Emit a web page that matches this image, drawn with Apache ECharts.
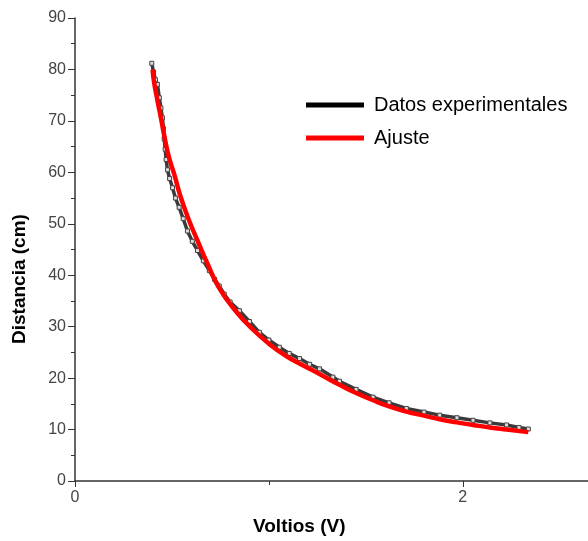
<!DOCTYPE html>
<html>
<head>
<meta charset="utf-8">
<script src="https://cdn.jsdelivr.net/npm/echarts@6/dist/echarts.min.js"></script>
<style>html,body{margin:0;padding:0;background:#fff}#c{width:588px;height:541px}</style>
</head>
<body>
<div id="c"></div>
<script>
// Experimental data: voltage (V) and distance (cm)
const expV = [0.396,0.405,0.415,0.425,0.435,0.443,0.451,0.456,0.460,0.465,0.470,0.477,0.488,0.503,0.518,0.537,0.558,0.580,0.605,0.632,0.662,0.693,0.720,0.744,0.770,0.800,0.848,0.900,0.951,1.000,1.054,1.105,1.158,1.210,1.261,1.330,1.364,1.450,1.537,1.620,1.709,1.800,1.881,1.970,2.053,2.140,2.226,2.290,2.338];
const expD = [81.2,79.5,78.0,77.1,74.5,72.5,70.6,68.5,66.5,64.5,62.5,60.5,58.8,57.0,55.0,53.2,51.0,48.6,46.6,44.8,42.8,40.9,39.2,37.9,36.3,34.8,33.1,31.0,28.9,27.4,26.0,24.8,23.8,22.7,21.8,20.2,19.4,17.8,16.3,15.2,14.1,13.4,12.8,12.3,11.8,11.3,10.9,10.4,10.1];
// Fit curve
const fitV = [0.400,0.408,0.425,0.443,0.460,0.477,0.495,0.512,0.546,0.589,0.632,0.684,0.744,0.830,0.916,1.003,1.089,1.175,1.261,1.364,1.450,1.537,1.620,1.709,1.800,1.881,1.970,2.053,2.140,2.226,2.338];
const fitD = [80.0,77.5,74.0,70.6,67.2,64.1,61.6,59.6,55.1,50.6,46.7,42.2,37.5,33.0,29.5,26.6,24.3,22.5,20.8,18.7,17.1,15.7,14.5,13.5,12.7,12.0,11.4,10.9,10.4,10.0,9.5];
const seriesNames = ['Datos experimentales', 'Ajuste'];
const xTickValues = [0, 2];
const xTitle = 'Voltios (V)';
const yTitle = 'Distancia (cm)';

const expData = expV.map((v, i) => [v, expD[i]]);
const fitData = fitV.map((v, i) => [v, fitD[i]]);

const chart = echarts.init(document.getElementById('c'), null, {renderer: 'canvas'});
chart.setOption({
  animation: false,
  backgroundColor: '#fff',
  grid: {left: 75, top: 18, right: 0, bottom: 60, containLabel: false},
  xAxis: {
    type: 'value', min: 0, max: 2.646, interval: 2,
    axisLine: {lineStyle: {color: '#333', width: 1.5}},
    axisTick: {show: true, length: 6, customValues: xTickValues, lineStyle: {color: '#333'}},
    minorTick: {show: true, splitNumber: 2, length: 4, lineStyle: {color: '#333'}},
    splitLine: {show: false},
    axisLabel: {color: '#444', fontSize: 16, fontFamily: 'Liberation Sans', margin: 9,
      customValues: xTickValues,
      formatter: v => (v === 0 || v === 2) ? String(v) : ''}
  },
  yAxis: {
    type: 'value', min: 0, max: 90, interval: 10,
    axisLine: {show: true, lineStyle: {color: '#333', width: 1.5}},
    axisTick: {show: true, length: 7, lineStyle: {color: '#333'}},
    minorTick: {show: true, splitNumber: 2, length: 4, lineStyle: {color: '#333'}},
    splitLine: {show: false},
    axisLabel: {color: '#444', fontSize: 16, fontFamily: 'Liberation Sans', margin: 9}
  },
  legend: {
    orient: 'vertical', left: 301, top: 90, itemWidth: 58, itemHeight: 5, itemGap: 13,
    icon: 'rect',
    textStyle: {color: '#000', fontSize: 20, fontFamily: 'Liberation Sans', padding: [3, 0, 0, 5]},
    data: [
      {name: seriesNames[0], itemStyle: {color: '#000', borderWidth: 0}},
      {name: seriesNames[1], itemStyle: {color: '#ff0000', borderWidth: 0}}
    ]
  },
  graphic: [
    {type: 'text', left: 253, top: 517, style: {text: xTitle, fill: '#000', font: 'bold 19px "Liberation Sans"'}},
    {type: 'text', x: 10, y: 344, rotation: Math.PI / 2,
      style: {text: yTitle, fill: '#000', font: 'bold 19px "Liberation Sans"', textVerticalAlign: 'top'}}
  ],
  series: [
    {
      name: seriesNames[0], type: 'line', data: expData,
      showAllSymbol: true, symbol: 'rect', symbolSize: 4,
      lineStyle: {color: '#3a3a3a', width: 3.5},
      itemStyle: {color: '#ddd', borderColor: '#444', borderWidth: 1},
      z: 2
    },
    {
      name: seriesNames[1], type: 'line', data: fitData, smooth: true,
      showSymbol: false,
      lineStyle: {color: '#ff0000', width: 4.5},
      itemStyle: {color: '#ff0000'},
      z: 3
    }
  ]
});
</script>
</body>
</html>
